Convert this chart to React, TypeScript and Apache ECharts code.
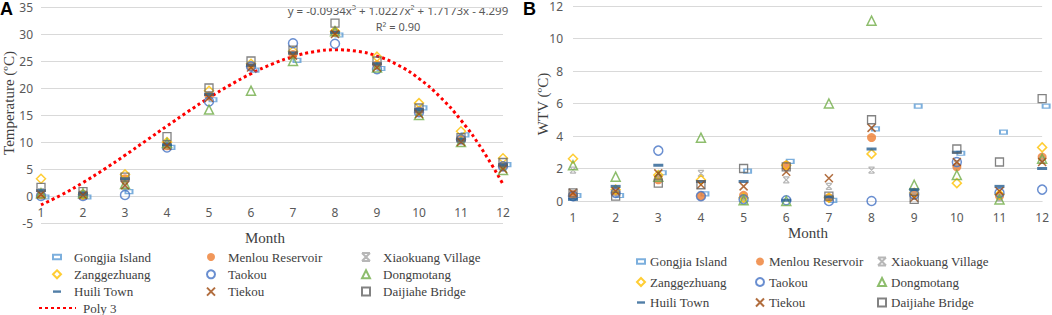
import React, { useEffect, useRef } from "react";
import * as echarts from "echarts";

const months = [1, 2, 3, 4, 5, 6, 7, 8, 9, 10, 11, 12];
const yTicksA = [-5, 35, 5];
const yTicksB = [0, 12, 2];

const siteNames = [
  "Gongjia Island",
  "Menlou Reservoir",
  "Xiaokuang Village",
  "Zanggezhuang",
  "Taokou",
  "Dongmotang",
  "Huili Town",
  "Tiekou",
  "Daijiahe Bridge",
];

// Panel A: temperature (ºC)
const tempGongjia = [0, 0, 1.0, 9.2, 18.0, 23.5, 25.3, 30.0, 23.8, 16.5, 11.5, 6.0];
const tempMenlou = [0.2, 0.1, 3.2, 9.3, 18.5, 24.0, 26.2, 30.3, 24.3, 15.8, 10.5, 5.6];
const tempXiaokuang = [0.8, 0.4, 1.8, 9.5, 18.5, 24.0, 26.0, 30.3, 24.0, 15.5, 10.2, 5.2];
const tempZang = [3.2, 0.3, 4.0, 10.0, 19.5, 24.5, 26.8, 30.5, 25.8, 17.2, 12.0, 7.0];
const tempTaokou = [0, 0, 0.2, 9.0, 17.5, 24.0, 28.3, 28.2, 23.5, 15.5, 10.5, 5.5];
const tempDongmotang = [0.5, 0.5, 2.2, 9.8, 16.0, 19.5, 25.0, 30.5, 23.8, 15.0, 10.0, 4.8];
const tempHuili = [1.0, 0.5, 3.2, 9.5, 18.8, 24.2, 26.5, 30.3, 24.5, 16.0, 10.5, 5.8];
const tempTiekou = [0.3, 0.2, 2.0, 9.3, 18.2, 23.8, 26.0, 30.0, 23.8, 15.2, 10.0, 5.0];
const tempDaijiahe = [1.6, 0.8, 3.5, 11.0, 20.0, 25.0, 27.0, 32.0, 25.0, 16.3, 10.8, 6.2];

// Poly 3 trend line
const trendX = [1, 1.5, 2, 2.5, 3, 3.5, 4, 4.5, 5, 5.5, 6, 6.5, 7, 7.5, 8, 8.5, 9, 9.5, 10, 10.5, 11, 11.5, 12];
const trendY = [-1.65, 0.26, 2.48, 4.93, 7.54, 10.24, 12.96, 15.63, 18.18, 20.54, 22.65, 24.42, 25.8, 26.71, 27.07, 26.83, 25.91, 24.24, 21.74, 18.36, 14.02, 8.65, 2.18];

// Panel B: WTV (ºC)
const wtvGongjia = [0.4, 0.4, 1.8, 0.5, 1.9, 2.5, 0.1, 4.5, 5.9, 3.0, 4.3, 5.9];
const wtvMenlou = [0.4, 0.6, 1.3, 0.3, 0.35, 2.2, 0.2, 3.9, 0.5, 2.1, 0.3, 2.7];
const wtvXiaokuang = [1.9, 0.5, 1.4, 1.7, 0.1, 1.3, 0.9, 1.9, 0.3, 2.3, 0.2, 2.5];
const wtvZang = [2.6, 0.7, 1.6, 1.3, 0.2, 2.2, 0.2, 2.9, 0.5, 1.1, 0.4, 3.3];
const wtvTaokou = [0.3, 0.5, 3.1, 0.3, 0.1, 0.05, 0, 0, 0.4, 2.4, 0.5, 0.7];
const wtvDongmotang = [2.2, 1.5, 1.5, 3.9, 0.05, 0, 6.0, 11.1, 1.0, 1.6, 0.1, 2.6];
const wtvHuili = [0.1, 0.9, 2.2, 1.2, 1.2, 0.05, 0.25, 3.2, 0.7, 3.0, 0.9, 2.0];
const wtvTiekou = [0.5, 0.6, 1.7, 1.0, 0.9, 1.8, 1.4, 4.5, 0.2, 2.4, 0.6, 2.4];
const wtvDaijiahe = [0.5, 0.3, 1.1, 1.0, 2.0, 2.1, 0.3, 5.0, 0.1, 3.2, 2.4, 6.3];

const tempSeries = [tempGongjia, tempMenlou, tempXiaokuang, tempZang, tempTaokou, tempDongmotang, tempHuili, tempTiekou, tempDaijiahe];
const wtvSeries = [wtvGongjia, wtvMenlou, wtvXiaokuang, wtvZang, wtvTaokou, wtvDongmotang, wtvHuili, wtvTiekou, wtvDaijiahe];

const NONE = "rgba(0,0,0,0)";
const markerStyles: any[] = [
  { symbol: "path://M0 0 H7 V4 H0 Z", symbolSize: [7, 4], symbolOffset: [4, 1], itemStyle: { color: NONE, borderColor: "#5b9bd5", borderWidth: 1.5 } },
  { symbol: "circle", symbolSize: 9, itemStyle: { color: "#ed7d31" } },
  { symbol: "path://M0 0 H8 M0 8 H8 M0 0 L8 8 M8 0 L0 8", symbolSize: 6, itemStyle: { color: NONE, borderColor: "#a5a5a5", borderWidth: 1.3 } },
  { symbol: "diamond", symbolSize: 9, itemStyle: { color: NONE, borderColor: "#ffc000", borderWidth: 1.5 } },
  { symbol: "circle", symbolSize: 9, itemStyle: { color: NONE, borderColor: "#4472c4", borderWidth: 1.5 } },
  { symbol: "triangle", symbolSize: 9, itemStyle: { color: NONE, borderColor: "#70ad47", borderWidth: 1.5 } },
  { symbol: "path://M0 0 H10 V3 H0 Z", symbolSize: [10, 3], itemStyle: { color: "#255e91" } },
  { symbol: "path://M0 0 L8 8 M8 0 L0 8", symbolSize: 8, itemStyle: { color: NONE, borderColor: "#9e480e", borderWidth: 1.5 } },
  { symbol: "rect", symbolSize: 8, itemStyle: { color: NONE, borderColor: "#636363", borderWidth: 1.3 } },
];

const axisFont = { fontFamily: "Noto Sans", fontSize: 12, color: "#595959" };
const serif = "Liberation Serif";

export default function App() {
  const ref = useRef<HTMLDivElement>(null);
  useEffect(() => {
    const chart = echarts.init(ref.current!, null, { renderer: "svg" });
    const series: any[] = [];
    siteNames.forEach((name, i) => {
      series.push({
        type: "scatter",
        name,
        xAxisIndex: 0,
        yAxisIndex: 0,
        data: months.map((m, j) => [m, tempSeries[i][j]]),
        ...markerStyles[i],
      });
    });
    series.push({
      type: "line",
      name: "Poly 3",
      xAxisIndex: 0,
      yAxisIndex: 0,
      smooth: true,
      showSymbol: false,
      symbol: "none",
      data: trendX.map((x, j) => [x, trendY[j]]),
      lineStyle: { color: "#ff0000", width: 3, type: [3, 3] },
      itemStyle: { color: NONE },
      z: 1,
    });
    siteNames.forEach((name, i) => {
      series.push({
        type: "scatter",
        name,
        xAxisIndex: 1,
        yAxisIndex: 1,
        data: months.map((m, j) => [m, wtvSeries[i][j]]),
        ...markerStyles[i],
      });
    });

    const legendText = { fontFamily: serif, fontSize: 13, color: "#404040", lineHeight: 14 };
    const legendA = (left: number, data: string[]) => ({
      orient: "vertical",
      left,
      top: 250,
      padding: 0,
      itemWidth: 8,
      itemHeight: 8,
      itemGap: 3.3,
      selectedMode: false,
      data,
      textStyle: { ...legendText, padding: [0, 0, 0, 8] },
    });
    const legendB = (left: number, data: string[]) => ({
      orient: "vertical",
      left,
      top: 254.5,
      padding: 0,
      itemWidth: 8,
      itemHeight: 8,
      itemGap: 6.5,
      selectedMode: false,
      data,
      textStyle: { ...legendText, padding: [0, 0, 0, 0] },
    });

    const gridLine = { show: true, lineStyle: { color: "#d9d9d9", width: 1 } };

    chart.setOption({
      animation: false,
      grid: [
        { left: 41, top: 7, width: 462, height: 216 },
        { left: 573, top: 5.5, width: 472, height: 195.5 },
      ],
      xAxis: [
        {
          type: "value", gridIndex: 0, min: months[0], max: months[11], interval: 1,
          offset: -27,
          axisLine: { show: false, onZero: false },
          axisTick: { show: false }, splitLine: { show: false },
          axisLabel: { ...axisFont, margin: 10 },
        },
        {
          type: "value", gridIndex: 1, min: months[0], max: months[11], interval: 1,
          axisLine: { show: true, onZero: false, lineStyle: { color: "#d9d9d9" } },
          axisTick: { show: false }, splitLine: { show: false },
          axisLabel: { ...axisFont, margin: 10 },
        },
      ],
      yAxis: [
        {
          type: "value", gridIndex: 0, min: yTicksA[0], max: yTicksA[1], interval: yTicksA[2],
          axisLine: { show: false }, axisTick: { show: false }, splitLine: gridLine,
          axisLabel: { ...axisFont, margin: 8, lineHeight: 11 },
        },
        {
          type: "value", gridIndex: 1, min: yTicksB[0], max: yTicksB[1], interval: yTicksB[2],
          axisLine: { show: false }, axisTick: { show: false }, splitLine: gridLine,
          axisLabel: { ...axisFont, margin: 10, lineHeight: 10 },
        },
      ],
      legend: [
        legendA(52, [siteNames[0], siteNames[3], siteNames[6]]),
        legendA(206, [siteNames[1], siteNames[4], siteNames[7]]),
        legendA(361, [siteNames[2], siteNames[5], siteNames[8]]),
        {
          left: 38, top: 301, padding: 0, itemWidth: 37, itemHeight: 9, selectedMode: false,
          data: [{ name: "Poly 3", itemStyle: { opacity: 0 } }],
          textStyle: { ...legendText, padding: [0, 0, 0, 2] },
        },
        legendB(636, [siteNames[0], siteNames[3], siteNames[6]]),
        legendB(755, [siteNames[1], siteNames[4], siteNames[7]]),
        legendB(877, [siteNames[2], siteNames[5], siteNames[8]]),
      ],
      graphic: [
        { type: "text", left: 0, top: 0, style: { text: "A", font: "bold 18px 'Liberation Sans'", fill: "#000" } },
        { type: "text", left: 523, top: 0, style: { text: "B", font: "bold 18px 'Liberation Sans'", fill: "#000" } },
        { type: "text", x: 398, y: 10, style: { text: "y = -0.0934x³ + 1.0227x² + 1.7173x - 4.299", font: "11.5px 'Noto Sans'", fill: "#595959", align: "center", verticalAlign: "middle" } },
        { type: "text", x: 398, y: 26, style: { text: "R² = 0.90", font: "11px 'Noto Sans'", fill: "#595959", align: "center", verticalAlign: "middle" } },
        { type: "text", x: 9, y: 103, rotation: Math.PI / 2, style: { text: "Temperature (ºC)", font: `15px '${serif}'`, fill: "#404040", align: "center", verticalAlign: "middle" } },
        { type: "text", x: 543, y: 104, rotation: Math.PI / 2, style: { text: "WTV (ºC)", font: `15px '${serif}'`, fill: "#404040", align: "center", verticalAlign: "middle" } },
        { type: "text", x: 265, y: 238, style: { text: "Month", font: `15px '${serif}'`, fill: "#404040", align: "center", verticalAlign: "middle" } },
        { type: "text", x: 808, y: 233, style: { text: "Month", font: `15px '${serif}'`, fill: "#404040", align: "center", verticalAlign: "middle" } },
      ],
      series,
    });
    return () => chart.dispose();
  }, []);
  return <div ref={ref} style={{ width: 1052, height: 315, position: "absolute", left: 0, top: 0 }} />;
}
